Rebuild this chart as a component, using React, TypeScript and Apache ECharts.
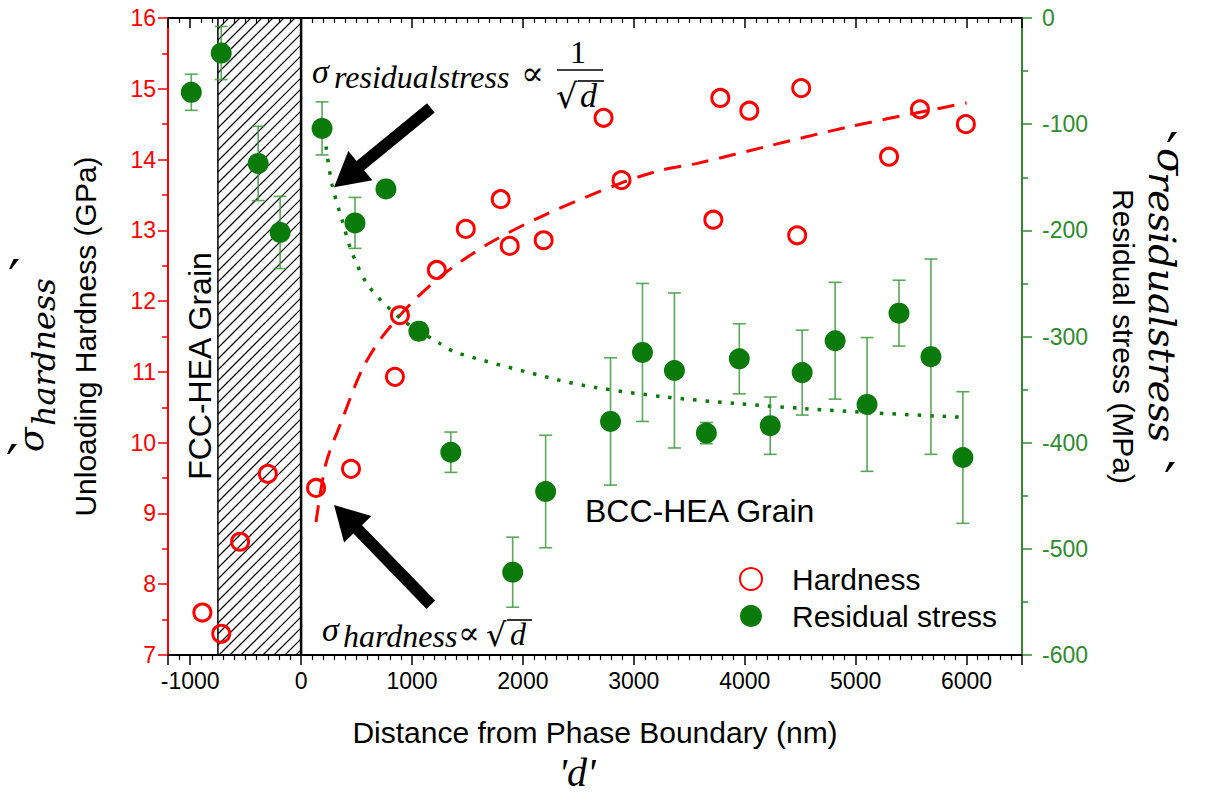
import React, { useEffect, useRef } from "react";
import * as echarts from "echarts";

// ---------- data ----------
const hardnessX = [-890, -720, -550, -300, 135, 450, 846, 891, 1224, 1485, 1800, 1881, 2187, 2727, 2889, 3717, 3780, 4041, 4473, 4509, 5301, 5580, 5994];
const hardnessY = [7.6, 7.3, 8.6, 9.56, 9.36, 9.63, 10.93, 11.8, 12.44, 13.02, 13.44, 12.78, 12.86, 14.59, 13.71, 13.15, 14.87, 14.69, 12.93, 15.01, 14.04, 14.71, 14.5];

const stressX = [-990, -720, -387, -189, 189, 486, 765, 1062, 1350, 1908, 2205, 2790, 3078, 3366, 3654, 3951, 4230, 4518, 4815, 5103, 5391, 5679, 5967];
const stressY = [-70, -33, -137, -202, -104, -193, -161, -295, -409, -522, -446, -380, -315, -332, -391, -321, -384, -334, -304, -364, -278, -319, -414];
const stressErr = [17, 25, 35, 34, 25, 24, 0, 8, 19, 33, 53, 60, 65, 73, 10, 33, 27, 40, 55, 63, 31, 92, 62];

const hardFitX = [135, 225, 369, 549, 729, 1000, 1300, 1700, 2200, 2889, 3249, 3582, 4185, 4932, 5679, 6000];
const hardFitY = [8.88, 9.71, 10.32, 11.03, 11.49, 11.98, 12.4, 12.82, 13.22, 13.67, 13.85, 13.95, 14.18, 14.46, 14.7, 14.8];

const stressFitX = [225, 279, 369, 459, 612, 909, 1242, 1395, 2322, 2655, 3285, 3915, 4545, 5175, 5949];
const stressFitY = [-121, -157, -190, -221, -253, -284, -306, -315, -341, -348, -357, -363, -368, -372, -376];

const fccRange = [-750, 0];
// arrows: [tailX, tailY, tipX, tipY] in hardness axis units
const arrowData = [
  [1170, 14.73, 297, 13.61],
  [1170, 7.71, 297, 9.12],
];

const RED = "#ff0000";
const GREEN = "#0a7a0a";
const GREEN_AXIS = "#2e8b2e";
const SANS = "'Liberation Sans', Arial, sans-serif";
const SERIF = "'Liberation Serif', 'DejaVu Serif', serif";
const SERIF_W = "'DejaVu Serif', serif";
const PRIME_FONT = "'DejaVu Sans', sans-serif";

function txt(text: string, x: number, y: number, fontSize: number, family: string, opts: any = {}) {
  return {
    type: "text",
    x,
    y,
    rotation: opts.rotation || 0,
    z: 20,
    silent: true,
    style: {
      text,
      fontSize,
      fontFamily: family,
      fontStyle: opts.italic ? "italic" : "normal",
      fill: opts.fill || "#000",
      align: opts.align || "left",
      verticalAlign: opts.va || "middle",
    },
  };
}

export default function App() {
  const ref = useRef<HTMLDivElement>(null);

  useEffect(() => {
    if (!ref.current) return;
    const chart = echarts.init(ref.current, null, { renderer: "svg" });

    const hardData = hardnessX.map((x, i) => [x, hardnessY[i]]);
    const stressData = stressX.map((x, i) => [x, stressY[i]]);
    const errData = stressX.map((x, i) => [x, stressY[i], stressErr[i]]);
    const hardFit = hardFitX.map((x, i) => [x, hardFitY[i]]);
    const stressFit = stressFitX.map((x, i) => [x, stressFitY[i]]);

    const leftLabel = {
      type: "group",
      x: 30,
      y: 452,
      rotation: Math.PI / 2,
      children: [
        txt("σ", 0, 0, 36, SERIF_W, { italic: true }),
        txt("hardness", 26, 14, 32, SERIF_W, { italic: true }),
      ],
    };
    const rightLabel = {
      type: "group",
      x: 1172,
      y: 148,
      rotation: -Math.PI / 2,
      children: [
        txt("σ", 0, 0, 40, SERIF_W, { italic: true }),
        txt("residualstress", 24, 10, 38, SERIF_W, { italic: true }),
      ],
    };

    const xLabelFmt = (v: number) => String(v);

    const option: any = {
      animation: false,
      backgroundColor: "#ffffff",
      grid: { left: 168, right: 183, top: 18, bottom: 157, containLabel: false },
      legend: {
        data: ["Hardness", "Residual stress"],
        orient: "vertical",
        left: 734,
        top: 559,
        itemWidth: 22,
        itemHeight: 22,
        itemGap: 7,
        selectedMode: false,
        textStyle: { fontSize: 30, fontFamily: SANS, color: "#000", lineHeight: 30, padding: [0, 0, 0, 25] },
      },
      xAxis: [
        {
          type: "value",
          position: "bottom",
          min: -1200,
          max: 6500,
          splitNumber: 8,
          minInterval: 1000,
          maxInterval: 1000,
          name: "Distance from Phase Boundary (nm)",
          nameLocation: "middle",
          nameGap: 62,
          nameTextStyle: { fontSize: 30, fontFamily: SANS, color: "#000" },
          axisLine: { onZero: false, lineStyle: { color: "#000", width: 2 } },
          axisTick: { length: 10, lineStyle: { color: "#000", width: 1.5 } },
          minorTick: { show: true, splitNumber: 10, length: 5, lineStyle: { color: "#000", width: 1.2 } },
          axisLabel: { formatter: xLabelFmt, showMinLabel: false, showMaxLabel: false, fontSize: 23, fontFamily: SANS, color: "#000", margin: 14 },
          splitLine: { show: false },
        },
        {
          type: "value",
          position: "top",
          min: -1200,
          max: 6500,
          splitNumber: 8,
          minInterval: 1000,
          maxInterval: 1000,
          axisLine: { onZero: false, lineStyle: { color: "#000", width: 2 } },
          axisTick: { inside: true, length: 10, lineStyle: { color: "#000", width: 1.5 } },
          minorTick: { show: true, splitNumber: 10, length: 5, lineStyle: { color: "#000", width: 1.2 } },
          axisLabel: { show: false },
          splitLine: { show: false },
        },
      ],
      yAxis: [
        {
          type: "value",
          position: "left",
          min: 7,
          max: 16,
          interval: 1,
          name: "Unloading Hardness (GPa)",
          nameLocation: "middle",
          nameRotate: 90,
          nameGap: 68,
          nameTextStyle: { fontSize: 30, fontFamily: SANS, color: "#000" },
          axisLine: { onZero: false, lineStyle: { color: RED, width: 2 } },
          axisTick: { length: 10, lineStyle: { color: RED, width: 1.5 } },
          minorTick: { show: true, splitNumber: 2, length: 6, lineStyle: { color: RED, width: 1.5 } },
          axisLabel: { fontSize: 23, fontFamily: SANS, color: RED, margin: 12 },
          splitLine: { show: false },
        },
        {
          type: "value",
          position: "right",
          min: -600,
          max: 0,
          interval: 100,
          name: "Residual stress (MPa)",
          nameLocation: "middle",
          nameRotate: -90,
          nameGap: 86,
          nameTextStyle: { fontSize: 30, fontFamily: SANS, color: "#000" },
          axisLine: { onZero: false, lineStyle: { color: GREEN_AXIS, width: 2 } },
          axisTick: { length: 10, lineStyle: { color: GREEN_AXIS, width: 1.5 } },
          minorTick: { show: true, splitNumber: 2, length: 6, lineStyle: { color: GREEN_AXIS, width: 1.5 } },
          axisLabel: { fontSize: 23, fontFamily: SANS, color: GREEN_AXIS, margin: 20 },
          splitLine: { show: false },
        },
      ],
      series: [
        {
          name: "FCC region",
          type: "custom",
          xAxisIndex: 0,
          yAxisIndex: 0,
          silent: true,
          z: 1,
          data: [[fccRange[0], fccRange[1], 10]],
          encode: { x: [0, 1], y: 2 },
          renderItem: (params: any, api: any) => {
            const cs = params.coordSys;
            const xa = api.coord([api.value(0), 10])[0];
            const xb = api.coord([api.value(1), 10])[0];
            const y1 = cs.y;
            const y2 = cs.y + cs.height;
            const H = y2 - y1;
            const children: any[] = [];
            const step = 11;
            for (let c = xa - H; c < xb; c += step) {
              const t0 = Math.max(0, xa - c);
              const t1 = Math.min(H, xb - c);
              if (t1 > t0) {
                children.push({
                  type: "line",
                  shape: { x1: c + t0, y1: y2 - t0, x2: c + t1, y2: y2 - t1 },
                  style: { stroke: "#000", lineWidth: 1.2 },
                });
              }
            }
            children.push({ type: "line", shape: { x1: xa, y1, x2: xa, y2 }, style: { stroke: "#000", lineWidth: 1.5 } });
            children.push({ type: "line", shape: { x1: xb, y1, x2: xb, y2 }, style: { stroke: "#000", lineWidth: 2.5 } });
            return { type: "group", children };
          },
        },
        {
          name: "Hardness fit",
          type: "line",
          xAxisIndex: 0,
          yAxisIndex: 0,
          data: hardFit,
          smooth: 0.3,
          symbol: "none",
          silent: true,
          z: 2,
          lineStyle: { color: RED, width: 3, type: [17, 11] },
        },
        {
          name: "Residual stress fit",
          type: "line",
          xAxisIndex: 0,
          yAxisIndex: 1,
          data: stressFit,
          smooth: 0.3,
          symbol: "none",
          silent: true,
          z: 2,
          lineStyle: { color: GREEN, width: 3.5, type: [3.5, 9] },
        },
        {
          name: "Error bars",
          type: "custom",
          xAxisIndex: 0,
          yAxisIndex: 1,
          silent: true,
          z: 3,
          data: errData,
          encode: { x: 0, y: 1 },
          renderItem: (params: any, api: any) => {
            const x = api.value(0);
            const y = api.value(1);
            const e = api.value(2);
            if (!e) return { type: "group", children: [] };
            const top = api.coord([x, y + e]);
            const bot = api.coord([x, y - e]);
            const cw = 6.5;
            const st = { stroke: "#3c9a3c", lineWidth: 1.6, opacity: 0.85 };
            return {
              type: "group",
              children: [
                { type: "line", shape: { x1: top[0], y1: top[1], x2: bot[0], y2: bot[1] }, style: st },
                { type: "line", shape: { x1: top[0] - cw, y1: top[1], x2: top[0] + cw, y2: top[1] }, style: st },
                { type: "line", shape: { x1: bot[0] - cw, y1: bot[1], x2: bot[0] + cw, y2: bot[1] }, style: st },
              ],
            };
          },
        },
        {
          name: "Hardness",
          type: "scatter",
          xAxisIndex: 0,
          yAxisIndex: 0,
          data: hardData,
          symbol: "circle",
          symbolSize: 17,
          z: 4,
          itemStyle: { color: "rgba(255,255,255,0)", borderColor: RED, borderWidth: 3, opacity: 1 },
        },
        {
          name: "Residual stress",
          type: "scatter",
          xAxisIndex: 0,
          yAxisIndex: 1,
          data: stressData,
          symbol: "circle",
          symbolSize: 21,
          z: 4,
          itemStyle: { color: GREEN, opacity: 1 },
        },
        {
          name: "Arrows",
          type: "custom",
          xAxisIndex: 0,
          yAxisIndex: 0,
          silent: true,
          z: 5,
          data: arrowData,
          encode: { x: [0, 2], y: [1, 3] },
          renderItem: (params: any, api: any) => {
            const p = api.coord([api.value(0), api.value(1)]);
            const q = api.coord([api.value(2), api.value(3)]);
            const dx = q[0] - p[0];
            const dy = q[1] - p[1];
            const len = Math.sqrt(dx * dx + dy * dy);
            const ux = dx / len;
            const uy = dy / len;
            const nx = -uy;
            const ny = ux;
            const w = 6;
            const hw = 19;
            const hl = 34;
            const bx = q[0] - ux * hl;
            const by = q[1] - uy * hl;
            const pts = [
              [p[0] + nx * w, p[1] + ny * w],
              [bx + nx * w, by + ny * w],
              [bx + nx * hw, by + ny * hw],
              [q[0], q[1]],
              [bx - nx * hw, by - ny * hw],
              [bx - nx * w, by - ny * w],
              [p[0] - nx * w, p[1] - ny * w],
            ];
            return { type: "polygon", shape: { points: pts }, style: { fill: "#000" } };
          },
        },
      ],
      graphic: [
        txt("FCC-HEA Grain", 200, 366, 32, SANS, { rotation: Math.PI / 2, align: "center" }),
        txt("BCC-HEA Grain", 585, 511, 32, SANS),
        // upper formula
        txt("σ", 312, 71, 34, SERIF, { italic: true }),
        txt("residualstress", 334, 77, 32, SERIF, { italic: true }),
        txt("∝", 521, 73, 34, SERIF_W),
        txt("1", 578, 52, 32, SERIF, { align: "center" }),
        { type: "line", z: 20, silent: true, shape: { x1: 557, y1: 70, x2: 603, y2: 70 }, style: { stroke: "#000", lineWidth: 1.6 } },
        txt("√", 556, 96, 34, SERIF_W),
        txt("d", 580, 95, 34, SERIF, { italic: true }),
        { type: "line", z: 20, silent: true, shape: { x1: 578, y1: 81, x2: 604, y2: 81 }, style: { stroke: "#000", lineWidth: 1.6 } },
        // lower formula
        txt("σ", 322, 629, 34, SERIF, { italic: true }),
        txt("hardness", 343, 636, 32, SERIF, { italic: true }),
        txt("∝", 458, 633, 32, SERIF_W),
        txt("√", 486, 635, 32, SERIF_W),
        txt("d", 510, 634, 32, SERIF, { italic: true }),
        { type: "line", z: 20, silent: true, shape: { x1: 507, y1: 620, x2: 532, y2: 620 }, style: { stroke: "#000", lineWidth: 1.6 } },
        // axis symbol labels
        leftLabel,
        txt("′", 12, 464, 54, PRIME_FONT, { align: "center" }),
        txt("′", 14, 279, 54, PRIME_FONT, { align: "center" }),
        rightLabel,
        txt("′", 1172, 152, 54, PRIME_FONT, { align: "center" }),
        txt("′", 1170, 482, 54, PRIME_FONT, { align: "center" }),
        txt("'d'", 577, 772, 40, SERIF, { italic: true, align: "center" }),
      ],
    };

    chart.setOption(option);
    return () => {
      chart.dispose();
    };
  }, []);

  return (
    <div
      ref={ref}
      style={{ position: "fixed", left: 0, top: 0, width: 1205, height: 812, background: "#fff" }}
    />
  );
}
